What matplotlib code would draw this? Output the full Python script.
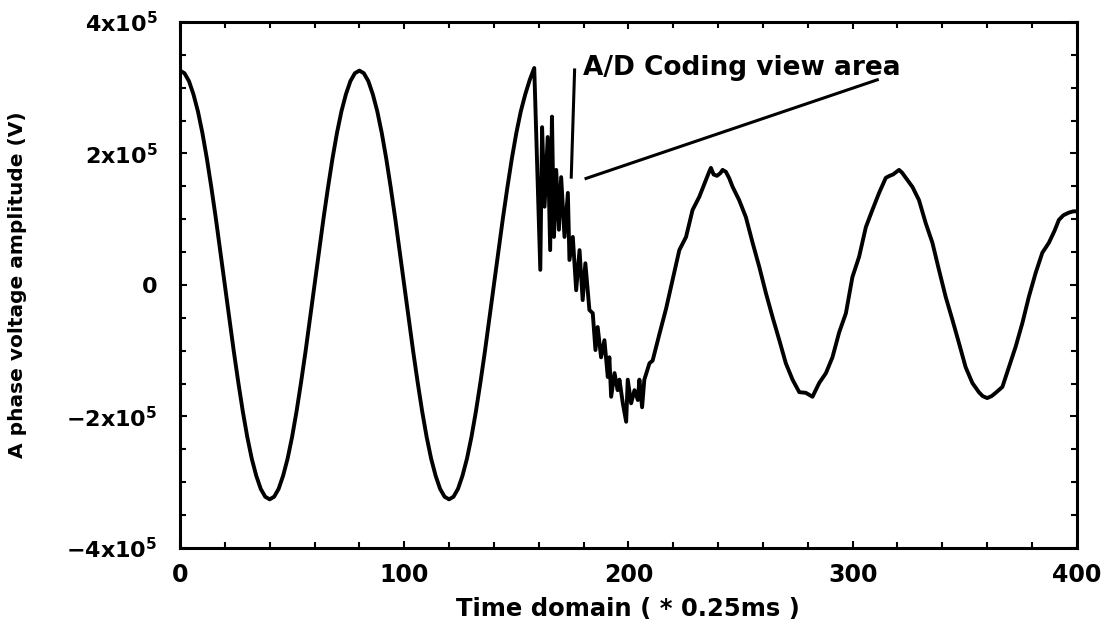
import numpy as np
import matplotlib
matplotlib.use("Agg")
import matplotlib.pyplot as plt
from matplotlib.ticker import MultipleLocator

# phase A voltage, time in samples (* 0.25 ms), voltage in 1e5 V
t_pre = list(range(0, 160, 2))
v_pre = [3.26, 3.22, 3.10, 2.90, 2.64, 2.31, 1.92, 1.48, 1.01, 0.51,
         0.0, -0.51, -1.01, -1.48, -1.92, -2.31, -2.64, -2.90, -3.10, -3.22,
         -3.26, -3.22, -3.10, -2.90, -2.64, -2.31, -1.92, -1.48, -1.01, -0.51,
         0.0, 0.51, 1.01, 1.48, 1.92, 2.31, 2.64, 2.90, 3.10, 3.22,
         3.26, 3.22, 3.10, 2.90, 2.64, 2.31, 1.92, 1.48, 1.01, 0.51,
         0.0, -0.51, -1.01, -1.48, -1.92, -2.31, -2.64, -2.90, -3.10, -3.22,
         -3.26, -3.22, -3.10, -2.90, -2.64, -2.31, -1.92, -1.48, -1.01, -0.51,
         0.0, 0.51, 1.01, 1.48, 1.92, 2.31, 2.64, 2.90, 3.12, 3.30]

t_fault = [160.7, 161.5, 162.6, 164.0, 165.1, 165.9, 166.8, 167.8, 169.0, 170.0,
           171.5, 173.0, 173.7, 175.2, 176.7, 178.2, 179.6, 180.8, 182.6, 184.1,
           185.3, 186.3, 187.8, 189.3, 190.8, 191.5, 192.3, 193.8, 195.2, 196.0,
           197.5, 199.0, 199.7, 201.2, 202.7, 204.2, 204.9, 206.1, 207.1, 209.4,
           210.8, 213.8, 216.8, 219.7, 222.7, 225.7, 228.6, 231.6, 234.6, 236.0,
           236.8, 238.0, 239.5, 241.0, 242.0, 243.5, 245.0, 246.5, 249.4, 252.4,
           255.4, 258.4, 261.3, 264.3, 267.3, 270.2, 273.2, 276.2, 279.1, 282.1,
           285.1, 288.1, 291.0, 294.0, 297.0, 299.9, 302.9, 305.9, 308.8, 311.8,
           314.8, 316.5, 318.0, 319.5, 320.7, 322.0, 323.7, 326.7, 329.6, 332.6,
           335.6, 338.5, 341.5, 344.5, 347.4, 350.4, 353.4, 356.3, 358.0, 360.0,
           362.0, 363.8, 366.8, 369.7, 372.7, 375.7, 378.6, 381.6, 384.6, 387.5,
           390.0, 392.0, 394.0, 396.4, 398.5, 400.0]
v_fault = [0.23, 2.40, 1.19, 2.25, 0.53, 2.56, 0.73, 1.75, 0.84, 1.64,
           0.73, 1.40, 0.38, 0.73, -0.08, 0.53, -0.23, 0.33, -0.38, -0.43,
           -0.99, -0.64, -1.10, -0.84, -1.40, -1.10, -1.70, -1.34, -1.60, -1.44,
           -1.80, -2.08, -1.44, -1.80, -1.60, -1.75, -1.44, -1.86, -1.44, -1.19,
           -1.15, -0.75, -0.36, 0.08, 0.53, 0.73, 1.14, 1.34, 1.60, 1.72,
           1.78, 1.68, 1.66, 1.70, 1.75, 1.72, 1.62, 1.49, 1.29, 1.03,
           0.64, 0.27, -0.12, -0.49, -0.84, -1.19, -1.44, -1.63, -1.64, -1.70,
           -1.49, -1.34, -1.10, -0.72, -0.43, 0.12, 0.43, 0.88, 1.14, 1.40,
           1.63, 1.66, 1.68, 1.72, 1.75, 1.71, 1.63, 1.49, 1.29, 0.94,
           0.64, 0.23, -0.18, -0.53, -0.88, -1.25, -1.49, -1.63, -1.69, -1.72,
           -1.69, -1.64, -1.55, -1.25, -0.94, -0.58, -0.18, 0.18, 0.49, 0.64,
           0.82, 0.99, 1.06, 1.10, 1.12, 1.12]

# callout lines for the annotation (x in samples, y in 1e5 V)
mark_x = [176.0, 174.5]
mark_y = [3.27, 1.64]
lead_x = [181.1, 311.0]
lead_y = [1.62, 3.12]

xticks = [0, 100, 200, 300, 400]
yticks = [-4, -2, 0, 2, 4]
ylabels = [r'$\mathbf{-4x10^5}$', r'$\mathbf{-2x10^5}$', r'$\mathbf{0}$',
           r'$\mathbf{2x10^5}$', r'$\mathbf{4x10^5}$']

t = np.array(t_pre + t_fault)
v = np.array(v_pre + v_fault) * 1e5

fig = plt.figure(figsize=(11.09, 6.27), dpi=100)
ax = fig.add_axes([0.1623, 0.126, 0.8087, 0.839])

ax.plot(t, v, color='black', lw=2.8, solid_joinstyle='round')
ax.plot(mark_x, np.array(mark_y) * 1e5, color='black', lw=2.2)
ax.plot(lead_x, np.array(lead_y) * 1e5, color='black', lw=2.2)
ax.text(179.6, 3.30e5, 'A/D Coding view area', fontsize=19, fontweight='bold',
        va='center', ha='left')

ax.set_xlim(0, 400)
ax.set_ylim(-4e5, 4e5)
ax.set_xticks(xticks)
ax.set_xticklabels([str(x) for x in xticks], fontsize=17, fontweight='bold')
ax.set_yticks(np.array(yticks) * 1e5)
ax.set_yticklabels(ylabels, fontsize=16)
ax.xaxis.set_minor_locator(MultipleLocator(20))
ax.yaxis.set_minor_locator(MultipleLocator(0.5e5))
ax.tick_params(which='both', direction='in', top=True, right=True,
               width=1.5, color='black')
ax.tick_params(which='major', length=5)
ax.tick_params(which='minor', length=4)
ax.tick_params(axis='x', which='major', pad=11)
ax.tick_params(axis='y', which='major', pad=16)
for s in ax.spines.values():
    s.set_linewidth(2.2)

ax.set_xlabel('Time domain ( * 0.25ms )', fontsize=17.5, fontweight='bold',
              labelpad=7)
ax.set_ylabel('A phase voltage amplitude (V)', fontsize=14.5, fontweight='bold')
ax.yaxis.set_label_coords(-0.171, 0.5)

fig.savefig('out.png', dpi=100)
